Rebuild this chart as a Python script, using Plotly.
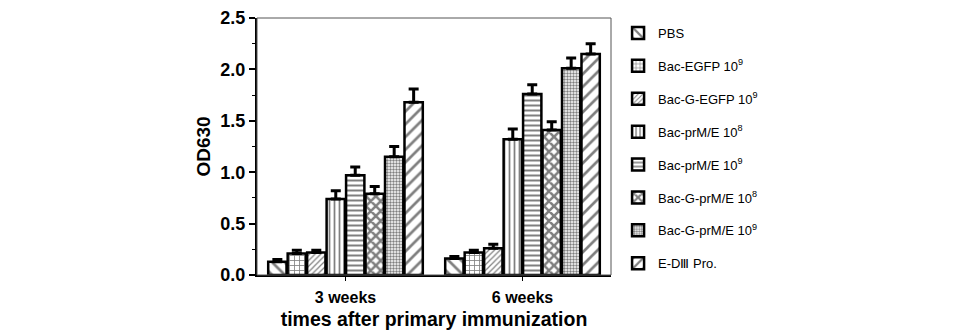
import plotly.graph_objects as go

categories = ["3 weeks", "6 weeks"]
series_names = [
    "PBS",
    "Bac-EGFP 10<sup>9</sup>",
    "Bac-G-EGFP 10<sup>9</sup>",
    "Bac-prM/E 10<sup>8</sup>",
    "Bac-prM/E 10<sup>9</sup>",
    "Bac-G-prM/E 10<sup>8</sup>",
    "Bac-G-prM/E 10<sup>9</sup>",
    "E-DⅢ Pro.",
]
values = [
    [0.13, 0.16],
    [0.21, 0.22],
    [0.22, 0.26],
    [0.74, 1.32],
    [0.97, 1.76],
    [0.79, 1.41],
    [1.15, 2.01],
    [1.68, 2.15],
]
errors = [
    [0.02, 0.02],
    [0.03, 0.02],
    [0.02, 0.04],
    [0.08, 0.10],
    [0.08, 0.09],
    [0.07, 0.08],
    [0.10, 0.10],
    [0.13, 0.10],
]
patterns = [
    dict(shape="\\", size=9, solidity=0.3),
    dict(shape="+", size=5, solidity=0.3),
    dict(shape="/", size=4, solidity=0.3),
    dict(shape="|", size=5, solidity=0.35),
    dict(shape="-", size=5, solidity=0.4),
    dict(shape="x", size=7, solidity=0.6),
    dict(shape=".", size=3, solidity=0.5),
    dict(shape="/", size=9, solidity=0.3),
]

fig = go.Figure()
for i, name in enumerate(series_names):
    p = dict(patterns[i])
    p.update(fgcolor="black", bgcolor="white", fillmode="overlay")
    fig.add_trace(go.Bar(
        x=categories, y=values[i], name=name,
        legendgroup=f"g{i}",
        marker=dict(color="white", line=dict(color="black", width=2.5), pattern=p),
        error_y=dict(type="data", array=errors[i], arrayminus=[0, 0], symmetric=False,
                     color="black", thickness=3, width=5),
    ))

fig.update_layout(
    width=957, height=330,
    margin=dict(l=257, r=346, t=18, b=55),
    paper_bgcolor="white", plot_bgcolor="white",
    barmode="group", bargap=0.12, bargroupgap=0.06,
    font=dict(family="Liberation Sans, Arial, sans-serif", color="black"),
    showlegend=True,
    legend=dict(x=1.02, y=1.0, xanchor="left", yanchor="top", maxheight=320,
                font=dict(size=13, color="black"), tracegroupgap=13,
                bgcolor="rgba(0,0,0,0)"),
    shapes=[dict(type="rect", xref="paper", yref="paper", x0=0, x1=1, y0=0, y1=1,
                 line=dict(color="#555", width=1), layer="above")],
)
fig.update_yaxes(
    range=[0, 2.5], dtick=0.5, tickformat=".1f", automargin=False,
    showgrid=False, zeroline=False,
    showline=True, linecolor="black", linewidth=2,
    ticks="outside", ticklen=6, tickwidth=1.5, tickcolor="black",
    minor=dict(dtick=0.25, ticks="outside", ticklen=3, tickcolor="black", tickwidth=1),
    tickfont=dict(size=18, family="Liberation Sans, Arial, sans-serif", weight="bold"),
    title=dict(text="<b>OD630</b>", font=dict(size=19), standoff=5),
)
fig.update_xaxes(
    range=[-0.5, 1.5], showgrid=False, zeroline=False, automargin=False,
    showline=True, linecolor="black", linewidth=2,
    ticks="outside", ticklen=4, tickcolor="black",
    ticklabelstandoff=3,
    tickfont=dict(size=16, weight="bold"),
    title=dict(text="<b>times after primary immunization</b>", font=dict(size=19.5), standoff=9),
)

fig.write_html("out.html")
